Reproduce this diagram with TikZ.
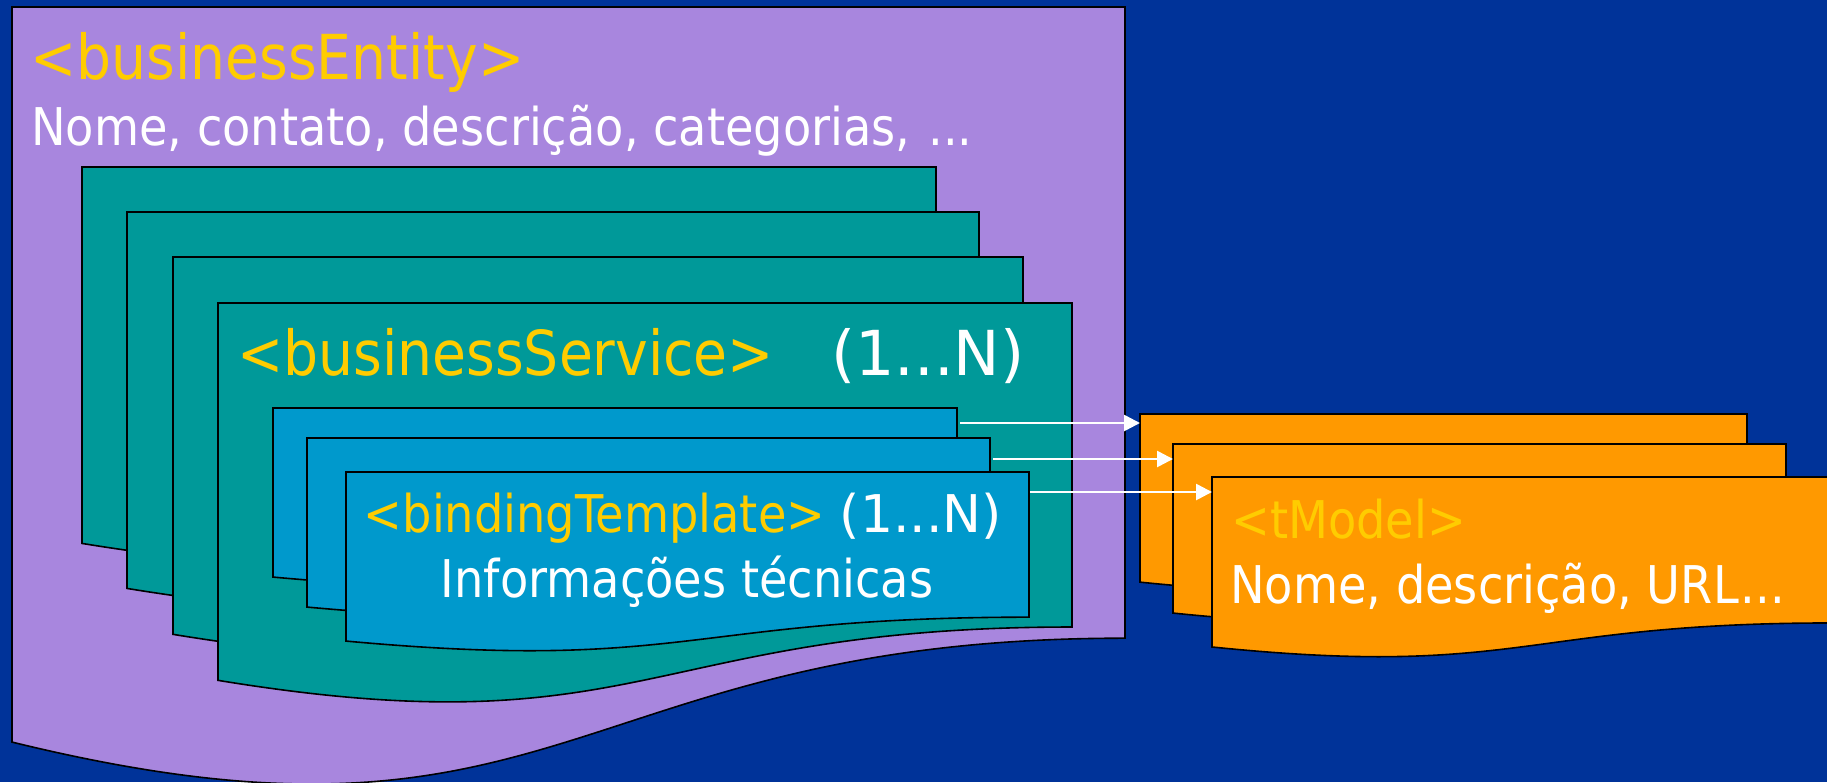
\documentclass[tikz,border=0pt]{standalone}
\usepackage{fontspec}
\setmainfont{DejaVu Sans}[FakeStretch=0.89]
\newfontfamily\cardfont{DejaVu Sans}
\usepackage{tikz}
\usetikzlibrary{arrows.meta}
\definecolor{bgblue}{RGB}{0,51,153}
\definecolor{entitypurple}{RGB}{168,134,222}
\definecolor{serviceteal}{RGB}{0,153,153}
\definecolor{bindingblue}{RGB}{0,153,204}
\definecolor{tmodelorange}{RGB}{255,153,0}
\definecolor{tagyellow}{RGB}{255,204,0}
\tikzset{
  sheet/.style={draw=black, line width=1.6pt, line join=miter},
  headtext/.style={inner sep=0pt, text=tagyellow, font=\fontsize{62}{74}\selectfont},
  bodytext/.style={inner sep=0pt, text=white, font=\fontsize{52}{64}\selectfont},
  arrow/.style={-{Triangle[length=16pt,width=16pt]}, draw=white, line width=2.6pt},
}

\begin{document}
\begin{tikzpicture}[x=1pt,y=-1pt]
  \useasboundingbox (0,0) rectangle (1827,782);
  \fill[bgblue] (0,0) rectangle (1827,782);
  \clip (0,0) rectangle (1827,782);
  % pages: left/top/width/height/colour
  \foreach \x/\y/\w/\h/\c in {12/7/1113/787/entitypurple,
      82/167/854/403/serviceteal, 127/212/852/403/serviceteal,
      173/257/850/404/serviceteal, 218/303/854/404/serviceteal,
      273/408/684/181/bindingblue, 307/438/683/181/bindingblue,
      346/472/683/181/bindingblue,
      1140/414/607/180/tmodelorange, 1173/444/613/181/tmodelorange,
      1212/477/620/182/tmodelorange}{
    \filldraw[sheet, fill=\c] (\x,\y) -- ++(\w,0) -- ++(0,{0.802*\h})
      .. controls ({\x+\w/2},{\y+0.802*\h}) and ({\x+\w/2},{\y+1.1075*\h}) .. (\x,{\y+0.934*\h}) -- cycle;
  }

  \node[headtext, anchor=base west] (entity) at (30,79) {<businessEntity>};
  \node[bodytext, anchor=base west] (entityinfo) at (31,145) {Nome, contato, descrição, categorias,\hspace{3pt} ...};
  \node[headtext, anchor=base west] (service) at (237,375) {<businessService>};
  \node[headtext, text=white, anchor=base west] (servicecard) at (831,375) {\cardfont (1...N)};
  \node[bodytext, anchor=base] (binding) at (683,532) {\textcolor{tagyellow}{<bindingTemplate>} {\cardfont (1...N)}};
  \node[bodytext, anchor=base] (bindinginfo) at (687,597) {Informações técnicas};
  \node[bodytext, text=tagyellow, anchor=base west] (tmodel) at (1231,538) {<tModel>};
  \node[bodytext, anchor=base west] (tmodelinfo) at (1230,603) {Nome, descrição, URL\hspace{2pt}...};

  % links
  \foreach \i/\xa/\xb/\y in {1/960/1140/423, 2/993/1173/459, 3/1030/1212/492}{
    \coordinate (bt\i) at (\xa,\y);
    \coordinate (tm\i) at (\xb,\y);
    \draw[arrow] (bt\i) -- (tm\i);
  }
\end{tikzpicture}
\end{document}
